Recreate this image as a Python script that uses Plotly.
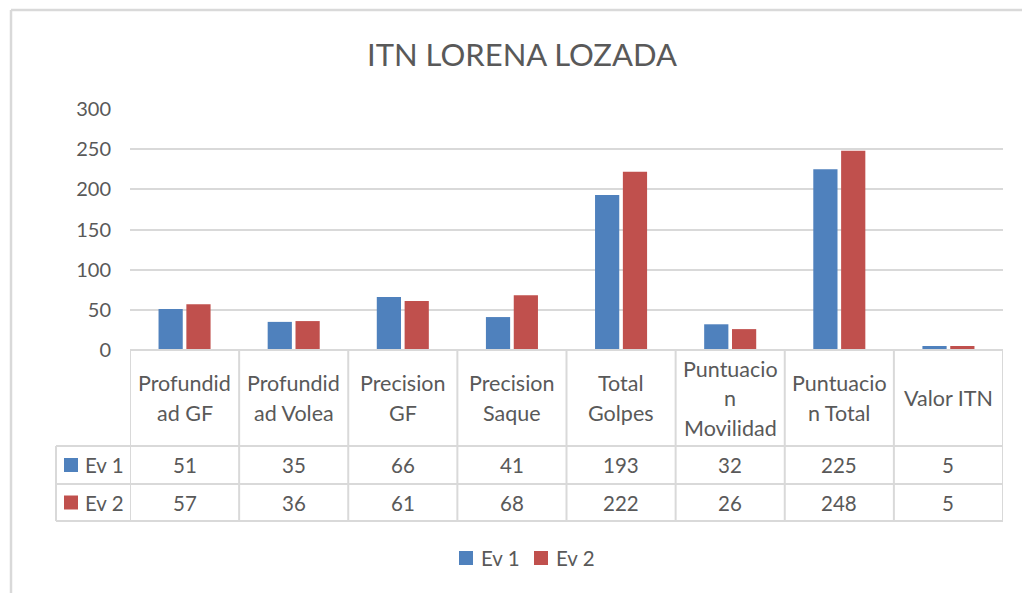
import plotly.graph_objects as go

categories = ["Profundidad GF", "Profundidad Volea", "Precision GF", "Precision Saque",
              "Total Golpes", "Puntuacion Movilidad", "Puntuacion Total", "Valor ITN"]
# wrapped header labels as shown in the data table
category_lines = [["Profundid", "ad GF"], ["Profundid", "ad Volea"], ["Precision", "GF"],
                  ["Precision", "Saque"], ["Total", "Golpes"], ["Puntuacio", "n", "Movilidad"],
                  ["Puntuacio", "n Total"], ["Valor ITN"]]
series_names = ["Ev 1", "Ev 2"]
ev1 = [51, 35, 66, 41, 193, 32, 225, 5]
ev2 = [57, 36, 61, 68, 222, 26, 248, 5]
y_ticks = [0, 50, 100, 150, 200, 250, 300]
colors = ["#4F81BD", "#C0504D"]

W, H = 1023, 593
PL, PR, PT, PB = 130, 1003, 109, 350  # plot area pixel bounds
TXT = "#595959"
GRID = "#D9D9D9"
FONT = "Lato"

def px2x(px):
    return (px - PL) / (PR - PL)

def py2y(py):
    return (PB - py) / (PB - PT)

xs = list(range(len(categories)))
fig = go.Figure()
for name, vals, col in zip(series_names, [ev1, ev2], colors):
    fig.add_trace(go.Bar(x=xs, y=vals, name=name, marker=dict(color=col, line=dict(width=0)),
                         showlegend=False))

shapes = []
annotations = []
line_style = dict(color=GRID, width=2)

# table geometry (pixels)
row_tops = [350, 446, 484, 521]
table_left = 56
n = len(categories)
# horizontal lines
shapes.append(dict(type="line", xref="x", yref="paper", x0=-0.5, x1=n - 0.5,
                   y0=py2y(row_tops[0]), y1=py2y(row_tops[0]), line=line_style))
for r in row_tops[1:]:
    shapes.append(dict(type="line", xref="paper", yref="paper", x0=px2x(table_left), x1=1,
                       y0=py2y(r), y1=py2y(r), line=line_style))
# vertical lines
for i in range(n + 1):
    shapes.append(dict(type="line", xref="x", yref="paper", x0=i - 0.5, x1=i - 0.5,
                       y0=py2y(row_tops[0]), y1=py2y(row_tops[-1]), line=line_style))
shapes.append(dict(type="line", xref="paper", yref="paper", x0=px2x(table_left), x1=px2x(table_left),
                   y0=py2y(row_tops[1]), y1=py2y(row_tops[-1]), line=line_style))

# header labels
header_center = (row_tops[0] + row_tops[1]) / 2
line_gap = 29.5
for i, lines in enumerate(category_lines):
    k = len(lines)
    for j, t in enumerate(lines):
        cy = header_center + (j - (k - 1) / 2) * line_gap
        annotations.append(dict(x=i, xref="x", y=py2y(cy), yref="paper", text=t, showarrow=False,
                                xanchor="center", yanchor="middle",
                                font=dict(family=FONT, size=21.5, color=TXT)))

# value rows
for r, (name, vals, col) in enumerate(zip(series_names, [ev1, ev2], colors)):
    cy = (row_tops[r + 1] + row_tops[r + 2]) / 2
    for i, v in enumerate(vals):
        annotations.append(dict(x=i, xref="x", y=py2y(cy), yref="paper", text=str(v), showarrow=False,
                                xanchor="center", yanchor="middle",
                                font=dict(family=FONT, size=20.5, color=TXT)))
    shapes.append(dict(type="rect", xref="paper", yref="paper", x0=px2x(64), x1=px2x(78),
                       y0=py2y(cy - 7), y1=py2y(cy + 7), fillcolor=col, line=dict(width=0)))
    annotations.append(dict(x=px2x(83), xref="paper", y=py2y(cy), yref="paper", text=name,
                            showarrow=False, xanchor="left", yanchor="middle",
                            font=dict(family=FONT, size=20.5, color=TXT)))

# bottom legend
legend_y = 558
legend_x = [459, 534]
for name, col, lx in zip(series_names, colors, legend_x):
    shapes.append(dict(type="rect", xref="paper", yref="paper", x0=px2x(lx), x1=px2x(lx + 14),
                       y0=py2y(legend_y - 7), y1=py2y(legend_y + 7), fillcolor=col, line=dict(width=0)))
    annotations.append(dict(x=px2x(lx + 20), xref="paper", y=py2y(legend_y), yref="paper", text=name,
                            showarrow=False, xanchor="left", yanchor="middle",
                            font=dict(family=FONT, size=20.5, color=TXT)))

# outer chart border (top and left edges visible)
border = dict(color=GRID, width=2.5)
shapes.append(dict(type="line", xref="paper", yref="paper", x0=px2x(11), x1=px2x(1022),
                   y0=py2y(10), y1=py2y(10), line=border))
shapes.append(dict(type="line", xref="paper", yref="paper", x0=px2x(11), x1=px2x(11),
                   y0=py2y(10), y1=py2y(593), line=border))

fig.update_layout(
    width=W, height=H,
    margin=dict(l=PL, r=W - PR, t=PT, b=H - PB, pad=0),
    paper_bgcolor="white", plot_bgcolor="white",
    barmode="group", bargap=0.49, bargroupgap=0.13,
    title=dict(text="ITN LORENA LOZADA", x=522 / W, xref="container", xanchor="center",
               y=1 - 55 / H, yref="container", yanchor="middle",
               font=dict(family=FONT, size=31, color=TXT)),
    font=dict(family=FONT, color=TXT),
    showlegend=False,
    xaxis=dict(range=[-0.5, n - 0.5], showticklabels=False, showgrid=False, zeroline=False,
               showline=False, ticks=""),
    yaxis=dict(range=[0, 300], tickvals=y_ticks, showgrid=True, gridcolor=GRID, gridwidth=1.5,
               zeroline=False, showline=False, ticks="", ticklabelstandoff=18,
               tickfont=dict(family=FONT, size=20, color=TXT)),
    shapes=shapes, annotations=annotations,
)
fig.write_html("out.html", config={"displayModeBar": False},
               post_script="document.body.style.margin='0';document.body.style.overflow='hidden';")
